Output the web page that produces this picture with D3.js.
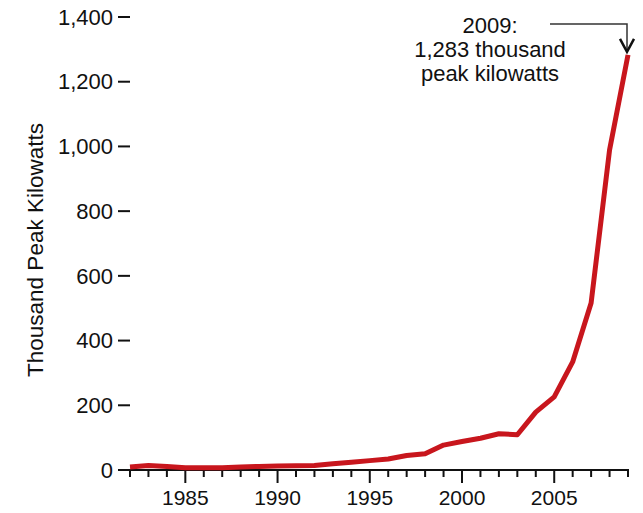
<!DOCTYPE html>
<html>
<head>
<meta charset="utf-8">
<script src="https://cdn.jsdelivr.net/npm/d3@7"></script>
<style>
  body { margin: 0; background: #fff; }
  text { font-family: "Liberation Sans", Arial, sans-serif; fill: #111; }
</style>
</head>
<body>
<div id="chart"></div>
<script>
// years and installed capacity (thousand peak kW)
var years = [1982, 1983, 1984, 1985, 1986, 1987, 1988, 1989, 1990, 1991, 1992, 1993, 1994, 1995,
    1996, 1997, 1998, 1999, 2000, 2001, 2002, 2003, 2004, 2005, 2006, 2007, 2008, 2009];
var values = [9, 14, 11, 7, 7, 7, 9, 11, 12, 13, 14, 19, 24, 29,
    34, 45, 50, 77, 88, 98, 112, 109, 179, 226, 334, 516, 989, 1283];
var yTicks = [0, 200, 400, 600, 800, 1000, 1200, 1400];
var xLabels = [1985, 1990, 1995, 2000, 2005];
var noteLines = ["2009:", "1,283 thousand", "peak kilowatts"];

var width = 643, height = 513;

var svg = d3.select("#chart").append("svg")
    .attr("width", width)
    .attr("height", height);

var x = d3.scaleLinear().domain([1982, 2009]).range([130, 628]);
var y = d3.scaleLinear().domain([0, 1400]).range([470, 17]);

// y axis: labels + short ticks, no spine
var yAxis = svg.append("g");
yAxis.selectAll("line").data(yTicks).enter().append("line")
    .attr("x1", 118).attr("x2", 130)
    .attr("y1", function(d){ return y(d); })
    .attr("y2", function(d){ return y(d); })
    .attr("stroke", "#111").attr("stroke-width", 2);
yAxis.selectAll("text").data(yTicks).enter().append("text")
    .attr("x", 113)
    .attr("y", function(d){ return y(d); })
    .attr("dy", "0.35em")
    .attr("text-anchor", "end")
    .style("font-size", "22px")
    .text(function(d){ return d3.format(",")(d); });

// x axis
var xAxis = svg.append("g");
xAxis.append("line")
    .attr("x1", 118).attr("x2", x(2009) + 1)
    .attr("y1", y(0)).attr("y2", y(0))
    .attr("stroke", "#111").attr("stroke-width", 2);
xAxis.selectAll("line.tick").data(years).enter().append("line")
    .attr("class", "tick")
    .attr("x1", function(d){ return x(d); })
    .attr("x2", function(d){ return x(d); })
    .attr("y1", y(0))
    .attr("y2", function(d){ return d % 5 == 0 ? y(0) + 13 : y(0) + 7; })
    .attr("stroke", "#111").attr("stroke-width", 2);
xAxis.selectAll("text").data(xLabels).enter().append("text")
    .attr("x", function(d){ return x(d); })
    .attr("y", 505)
    .attr("text-anchor", "middle")
    .style("font-size", "21px")
    .text(function(d){ return d; });

svg.append("text")
    .attr("transform", "translate(43,250) rotate(-90)")
    .attr("text-anchor", "middle")
    .style("font-size", "22.5px")
    .text("Thousand Peak Kilowatts");

// the line
var line = d3.line()
    .x(function(d, i){ return x(years[i]); })
    .y(function(d){ return y(d); });

svg.append("path")
    .datum(values)
    .attr("d", line)
    .attr("fill", "none")
    .attr("stroke", "#c8161d")
    .attr("stroke-width", 5)
    .attr("stroke-linejoin", "round");

// annotation
var last = values[values.length - 1];
var tipX = x(2009) - 1, tipY = y(last) - 3;
svg.append("path")
    .attr("d", "M550,24H" + tipX + "V" + tipY)
    .attr("fill", "none")
    .attr("stroke", "#333").attr("stroke-width", 1.5);
svg.append("path")
    .attr("d", "M" + (tipX - 7) + "," + (tipY - 13) + "L" + tipX + "," + tipY + "L" + (tipX + 7) + "," + (tipY - 13))
    .attr("fill", "none")
    .attr("stroke", "#111").attr("stroke-width", 2.5);

svg.append("g").selectAll("text").data(noteLines).enter().append("text")
    .attr("x", 490)
    .attr("y", function(d, i){ return 33 + i * 24; })
    .attr("text-anchor", "middle")
    .style("font-size", "22px")
    .text(function(d){ return d; });
</script>
</body>
</html>
